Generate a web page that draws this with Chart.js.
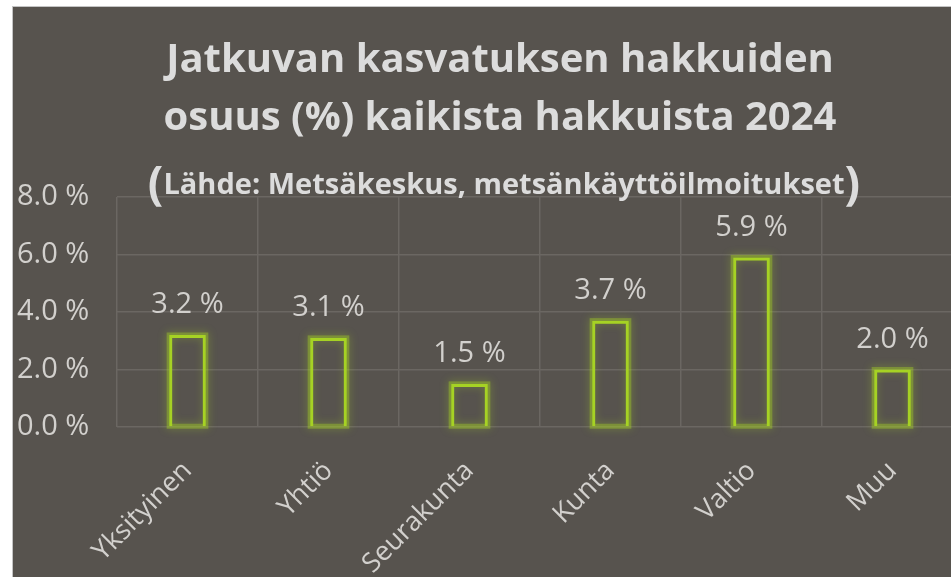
<!DOCTYPE html>
<html>
<head>
<meta charset="utf-8">
<script src="https://cdn.jsdelivr.net/npm/chart.js@4/dist/chart.umd.min.js"></script>
<style>
  html, body { margin: 0; padding: 0; background: #fff; overflow: hidden; }
  .frame {
    position: absolute; left: 12px; top: 6px;
    width: 952px; height: 572px;
    border-left: 1px solid #c4c4c4; border-top: 1px solid #c4c4c4;
    background: #57534e;
  }
  canvas { display: block; }
</style>
</head>
<body>
<div class="frame">
  <canvas id="chart" width="950" height="570"></canvas>
</div>
<script>
// data
const categories = ["Yksityinen", "Yhtiö", "Seurakunta", "Kunta", "Valtio", "Muu"];
const shares = [3.2, 3.1, 1.5, 3.7, 5.9, 2.0];
const yTicks = [0, 2, 4, 6, 8];

const titleLines = ["Jatkuvan kasvatuksen hakkuiden", "osuus (%) kaikista hakkuista 2024"];
const subTitle = "Lähde: Metsäkeskus, metsänkäyttöilmoitukset";

const textColor = "#d2d0cd";
const green = "#a6d224";
const fmt = v => v.toFixed(1) + " %";

// title drawn by hand because of the big parentheses
const titlePlugin = {
  id: "bigTitle",
  afterDraw(chart) {
    const ctx = chart.ctx;
    const cx = 487;
    ctx.save();
    ctx.fillStyle = "#dcdcdc";
    ctx.textBaseline = "alphabetic";
    ctx.textAlign = "center";
    ctx.font = "bold 40px 'Open Sans'";
    ctx.fillText(titleLines[0], cx, 65);
    ctx.fillText(titleLines[1], cx, 123);

    ctx.textAlign = "left";
    const small = "bold 29px 'Open Sans'";
    const big = "bold 46px 'Open Sans'";
    ctx.font = small;
    const w = ctx.measureText(subTitle).width;
    ctx.font = big;
    const pw = ctx.measureText("(").width;
    let x = cx + 4 - (w + 2 * pw) / 2;
    ctx.fillText("(", x, 192);
    ctx.font = small;
    ctx.fillText(subTitle, x + pw, 187);
    ctx.font = big;
    ctx.fillText(")", x + pw + w, 192);
    ctx.restore();
  }
};

// green glow behind the bar outlines
const glowPlugin = {
  id: "glow",
  beforeDatasetsDraw(chart) {
    const ctx = chart.ctx;
    ctx.save();
    chart.getDatasetMeta(0).data.forEach(bar => {
      const p = bar.getProps(["x", "y", "base", "width"], true);
      ctx.strokeStyle = "rgba(166,210,36,0.4)";
      ctx.lineWidth = 5;
      ctx.shadowColor = "rgba(166,210,36,0.9)";
      ctx.shadowBlur = 8;
      ctx.strokeRect(p.x - p.width / 2, p.y, p.width, p.base - p.y);
    });
    ctx.restore();
  }
};

// value labels above bars
const labelPlugin = {
  id: "valueLabels",
  afterDatasetsDraw(chart) {
    const ctx = chart.ctx;
    ctx.save();
    ctx.fillStyle = textColor;
    ctx.font = "29px 'Open Sans'";
    ctx.textAlign = "center";
    ctx.textBaseline = "middle";
    chart.getDatasetMeta(0).data.forEach((bar, i) => {
      ctx.fillText(fmt(shares[i]), bar.x, bar.y - 30);
    });
    ctx.restore();
  }
};

new Chart(document.getElementById("chart"), {
  type: "bar",
  data: {
    labels: categories,
    datasets: [{
      data: shares,
      backgroundColor: "rgba(0,0,0,0)",
      borderColor: green,
      borderWidth: 3,
      barPercentage: 0.26,
      categoryPercentage: 1
    }]
  },
  options: {
    responsive: false,
    animation: false,
    layout: { padding: { top: 190, left: 4, right: 0, bottom: 0 } },
    plugins: {
      legend: { display: false },
      title: { display: false },
      tooltip: { enabled: false }
    },
    scales: {
      x: {
        grid: { color: "#6b6762", lineWidth: 1.5, offset: true, drawTicks: false },
        border: { display: false },
        ticks: {
          color: textColor,
          font: { family: "Open Sans", size: 27 },
          minRotation: 45, maxRotation: 45,
          padding: 28
        },
        afterFit(s) { s.height = 150; }
      },
      y: {
        min: 0, max: 8,
        afterBuildTicks(s) { s.ticks = yTicks.map(v => ({ value: v })); },
        grid: { color: "#6b6762", lineWidth: 1.5, drawTicks: false },
        border: { display: false },
        ticks: {
          color: textColor,
          font: { family: "Open Sans", size: 29 },
          crossAlign: "far",
          padding: 0,
          callback: v => fmt(v)
        },
        afterFit(s) { s.width = 100; }
      }
    }
  },
  plugins: [glowPlugin, labelPlugin, titlePlugin]
});
</script>
</body>
</html>
